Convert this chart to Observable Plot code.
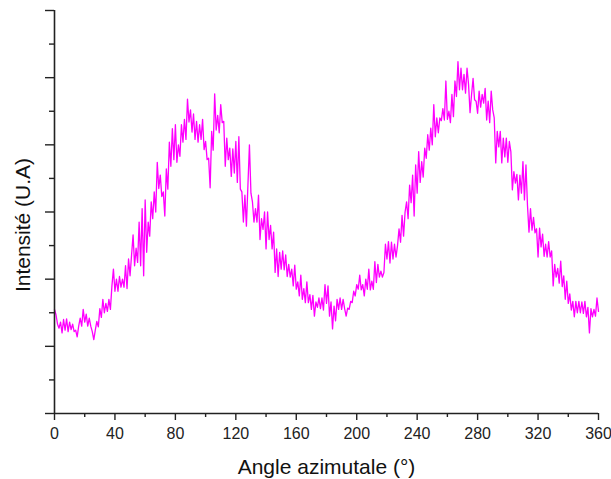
<!DOCTYPE html>
<html>
<head>
<meta charset="utf-8">
<script src="https://cdn.jsdelivr.net/npm/d3@7"></script>
<script src="https://cdn.jsdelivr.net/npm/@observablehq/plot@0.6"></script>
<style>
  html, body { margin: 0; padding: 0; background: #fff; }
</style>
</head>
<body>
<div id="chart"></div>
<script>
// Azimuthal angle (degrees), one sample per degree
const angles = d3.range(0, 361, 1);

// Intensity (arbitrary units) at each degree
const intensity = [
  1.55,1.47,1.33,1.27,1.36,1.20,1.40,1.24,1.41,1.22,
  1.36,1.25,1.33,1.22,1.24,1.14,1.30,1.42,1.30,1.55,
  1.36,1.48,1.30,1.42,1.30,1.22,1.10,1.24,1.37,1.29,
  1.56,1.43,1.70,1.50,1.64,1.52,1.70,1.55,1.90,2.15,
  1.82,2.00,1.82,2.04,1.88,2.00,1.88,2.20,1.86,2.30,
  2.05,2.36,2.66,2.20,2.46,2.25,2.85,2.20,3.05,2.05,
  3.18,2.40,2.85,2.64,3.15,2.90,3.30,3.00,3.74,3.35,
  3.55,3.23,3.30,2.94,3.64,3.34,4.04,3.68,4.24,3.78,
  4.30,3.74,4.00,3.83,4.30,4.04,4.38,4.08,4.68,4.34,
  4.52,4.19,4.46,4.08,4.35,4.04,4.30,4.08,4.38,3.93,
  4.05,3.78,3.80,3.36,4.20,3.92,4.76,4.22,4.44,4.18,
  4.60,4.33,4.35,3.68,4.10,3.78,3.95,3.53,3.94,3.58,
  4.05,3.44,4.12,3.34,3.30,2.85,3.25,2.79,3.40,4.00,
  3.28,3.15,2.85,3.05,2.85,3.25,2.59,2.90,2.74,3.00,
  2.45,3.00,2.59,2.80,2.45,2.70,2.10,2.45,2.04,2.40,
  2.15,2.42,2.14,2.36,2.04,2.22,2.03,2.15,1.90,2.21,
  1.85,1.96,1.75,2.06,1.70,1.86,1.65,1.96,1.65,1.77,
  1.55,1.76,1.45,1.66,1.58,1.72,1.56,1.72,1.54,1.92,
  1.64,1.90,1.45,1.66,1.26,1.60,1.38,1.70,1.55,1.72,
  1.55,1.70,1.56,1.45,1.57,1.55,1.67,1.65,1.82,1.75,
  1.92,1.85,2.06,1.84,1.92,1.75,2.00,1.85,2.15,1.84,
  1.97,1.85,2.26,1.95,2.22,2.03,2.12,2.03,2.10,2.52,
  2.30,2.56,2.24,2.55,2.30,2.52,2.33,2.50,2.75,2.55,
  2.95,2.64,3.00,3.15,2.90,3.40,3.14,3.55,2.94,3.70,
  3.28,3.90,3.44,3.75,3.52,3.95,3.80,4.15,3.92,4.25,
  4.00,4.60,4.12,4.40,4.18,4.40,4.36,4.54,4.37,4.95,
  4.38,4.50,4.33,4.75,4.42,4.95,4.72,5.24,4.82,5.14,
  4.82,5.05,4.77,5.14,4.90,4.48,4.75,4.99,4.67,4.65,
  4.47,4.80,4.56,4.75,4.62,4.84,4.37,4.65,4.33,4.80,
  4.52,4.40,3.73,4.20,3.97,4.20,3.73,4.10,3.82,4.10,
  3.74,4.05,3.90,3.33,3.60,3.43,3.56,3.18,3.55,3.28,
  3.75,3.18,3.70,3.10,2.70,3.05,2.73,2.92,2.69,2.75,
  2.33,2.76,2.48,2.67,2.34,2.52,2.33,2.56,2.33,2.42,
  1.90,2.22,2.03,2.16,1.94,2.27,1.89,2.05,1.70,1.97,
  1.64,1.78,1.54,1.67,1.44,1.67,1.50,1.67,1.50,1.66,
  1.49,1.67,1.44,1.58,1.20,1.56,1.44,1.55,1.45,1.72,
  1.52
];

const xMajorTicks = [0, 40, 80, 120, 160, 200, 240, 280, 320, 360];
const xMinorTicks = [20, 60, 100, 140, 180, 220, 260, 300, 340];
const yMajorTicks = [0, 1, 2, 3, 4, 5, 6];
const yMinorTicks = [0.5, 1.5, 2.5, 3.5, 4.5, 5.5];

const xTitle = "Angle azimutale (°)";
const yTitle = "Intensité (U.A)";

const data = angles.map((a, i) => ({angle: a, value: intensity[i]}));

const chart = Plot.plot({
  width: 611,
  height: 479,
  marginLeft: 54,
  marginRight: 13,
  marginTop: 10,
  marginBottom: 66,
  style: {fontFamily: "'Liberation Sans', Arial, sans-serif", fontSize: "16px", color: "#000", background: "#fff"},
  x: {domain: [0, 360], label: null},
  y: {domain: [0, 6], label: null},
  marks: [
    Plot.line(data, {x: "angle", y: "value", stroke: "#ff00ff", strokeWidth: 1.3}),
    Plot.axisX({ticks: xMajorTicks, tickSize: 7, tickPadding: 7, tickFormat: d => String(d), label: null, fontSize: 16, fill: "#222", stroke: "#222", strokeWidth: 1.4}),
    Plot.axisX({ticks: xMinorTicks, tickSize: 4, tickFormat: () => "", label: null, stroke: "#222", strokeWidth: 1.4}),
    Plot.axisY({ticks: yMajorTicks, tickSize: 9, tickFormat: () => "", label: null, stroke: "#222", strokeWidth: 1.4}),
    Plot.axisY({ticks: yMinorTicks, tickSize: 5, tickFormat: () => "", label: null, stroke: "#222", strokeWidth: 1.4}),
    Plot.ruleY([0], {stroke: "#222", strokeWidth: 1.6}),
    Plot.ruleX([0], {stroke: "#222", strokeWidth: 1.6}),
    Plot.text([xTitle], {frameAnchor: "bottom", dy: 54, fontSize: 21, fill: "#111", textAnchor: "middle", lineAnchor: "middle"}),
    Plot.text([yTitle], {frameAnchor: "left", dx: -31, dy: 13, rotate: -90, fontSize: 21, fill: "#111", textAnchor: "middle", lineAnchor: "middle"})
  ]
});
document.getElementById("chart").appendChild(chart);
</script>
</body>
</html>
